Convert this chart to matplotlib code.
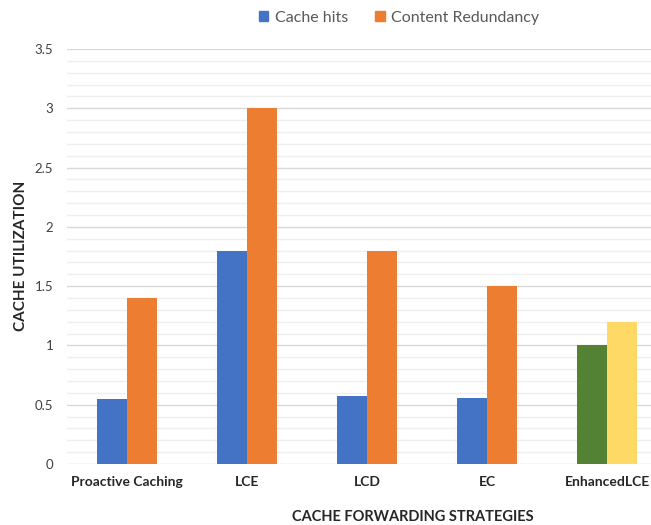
import matplotlib
matplotlib.use("Agg")
import matplotlib.pyplot as plt
from matplotlib.patches import Patch
from matplotlib.ticker import MultipleLocator
import numpy as np

plt.rcParams['font.family'] = ['Lato', 'DejaVu Sans']

strategies = ["Proactive Caching", "LCE", "LCD", "EC", "EnhancedLCE"]
cache_hits = [0.55, 1.8, 0.57, 0.56, 1.0]
content_redundancy = [1.4, 3.0, 1.8, 1.5, 1.2]
series_names = ["Cache hits", "Content Redundancy"]

hits_colors = ["#4472C4"] * 4 + ["#548235"]
redund_colors = ["#ED7D31"] * 4 + ["#FFD966"]

W, H = 651, 525
fig = plt.figure(figsize=(W / 100, H / 100), dpi=100)
# plot area: left edge 67 px, 120 px per category, baseline at 464 px, top at 49 px
ax_l, ax_r, ax_b, ax_t = 67, 667, 464, 49
ax = fig.add_axes([ax_l / W, 1 - ax_b / H, (ax_r - ax_l) / W, (ax_b - ax_t) / H])

x = np.arange(len(strategies))
w = 0.25
ax.bar(x - w / 2, cache_hits, w, color=hits_colors, zorder=3)
ax.bar(x + w / 2, content_redundancy, w, color=redund_colors, zorder=3)

ax.set_xlim(-0.5, len(strategies) - 0.5)
ax.set_ylim(0, 3.5)
ax.yaxis.set_minor_locator(MultipleLocator(0.1))
ax.grid(which="major", axis="y", color="#D9D9D9", linewidth=1.0, zorder=0)
ax.grid(which="minor", axis="y", color="#EFEFEF", linewidth=1.0, zorder=0)
ax.set_yticks(np.arange(0, 3.51, 0.5))
ax.set_yticklabels(["0", "0.5", "1", "1.5", "2", "2.5", "3", "3.5"])

for s in ax.spines.values():
    s.set_visible(False)
ax.tick_params(axis="both", which="both", length=0)
ax.tick_params(axis="y", labelsize=9.5, labelcolor="#404040", pad=10)
ax.set_xticks(x)
ax.set_xticklabels(strategies, fontsize=10, fontweight="bold", color="#262626")
ax.tick_params(axis="x", pad=9)

fig.text(413 / W, 1 - 517 / H, "CACHE FORWARDING STRATEGIES", fontsize=10.5,
         fontweight="bold", color="#262626", ha="center", va="center")
fig.text(21 / W, 1 - 256 / H, "CACHE UTILIZATION", fontsize=11, fontweight="bold",
         color="#262626", ha="center", va="center", rotation=90)

handles = [Patch(color="#4472C4"), Patch(color="#ED7D31")]
fig.legend(handles, series_names, loc="center", bbox_to_anchor=(399 / W, 1 - 18 / H),
           ncol=2, frameon=False, fontsize=11.5, handlelength=0.6, handleheight=0.6,
           handletextpad=0.4, columnspacing=1.7, labelcolor="#595959")

fig.savefig("out.png", dpi=100)
